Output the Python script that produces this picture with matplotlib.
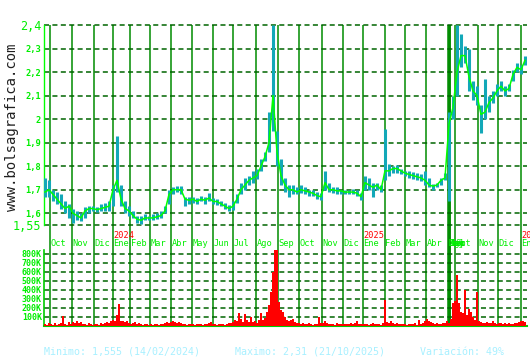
import numpy as np
import matplotlib.pyplot as plt
from matplotlib.transforms import blended_transform_factory

# precio: cierre, maximo y minimo cada 4 sesiones
close = [1.69, 1.70, 1.68, 1.66, 1.64, 1.62, 1.63, 1.60, 1.59, 1.58,
         1.61, 1.62, 1.62, 1.615, 1.62, 1.625, 1.63, 1.70, 1.74, 1.66,
         1.62, 1.61, 1.59, 1.575, 1.57, 1.58, 1.58, 1.58, 1.585, 1.59,
         1.61, 1.68, 1.70, 1.70, 1.70, 1.66, 1.655, 1.66, 1.65, 1.66,
         1.655, 1.665, 1.65, 1.65, 1.64, 1.63, 1.62, 1.63, 1.66, 1.70,
         1.72, 1.74, 1.75, 1.76, 1.80, 1.84, 1.90, 2.10, 1.86, 1.76,
         1.72, 1.70, 1.70, 1.69, 1.70, 1.695, 1.69, 1.685, 1.675, 1.67,
         1.73, 1.70, 1.70, 1.695, 1.695, 1.69, 1.69, 1.69, 1.685, 1.67,
         1.73, 1.72, 1.71, 1.72, 1.70, 1.78, 1.78, 1.79, 1.79, 1.78,
         1.77, 1.765, 1.76, 1.755, 1.75, 1.74, 1.72, 1.715, 1.72, 1.74,
         1.75, 1.98, 2.05, 2.20, 2.27, 2.27, 2.18, 2.12, 2.10, 2.02,
         2.03, 2.07, 2.09, 2.12, 2.14, 2.12, 2.13, 2.19, 2.22, 2.21,
         2.25]
high = [1.75, 1.74, 1.70, 1.69, 1.68, 1.65, 1.64, 1.62, 1.61, 1.60,
        1.625, 1.63, 1.63, 1.625, 1.64, 1.645, 1.65, 1.72, 1.93, 1.72,
        1.65, 1.63, 1.61, 1.59, 1.59, 1.595, 1.59, 1.595, 1.60, 1.61,
        1.63, 1.70, 1.71, 1.715, 1.715, 1.67, 1.67, 1.67, 1.665, 1.675,
        1.67, 1.685, 1.665, 1.66, 1.65, 1.645, 1.635, 1.65, 1.68, 1.73,
        1.75, 1.76, 1.78, 1.79, 1.83, 1.86, 2.03, 2.40, 1.95, 1.83,
        1.75, 1.72, 1.72, 1.71, 1.72, 1.71, 1.70, 1.70, 1.69, 1.685,
        1.78, 1.73, 1.71, 1.71, 1.70, 1.70, 1.70, 1.705, 1.70, 1.685,
        1.76, 1.75, 1.73, 1.73, 1.72, 1.96, 1.81, 1.80, 1.805, 1.79,
        1.78, 1.78, 1.775, 1.77, 1.765, 1.78, 1.75, 1.725, 1.73, 1.75,
        1.77, 2.03, 2.10, 2.40, 2.36, 2.31, 2.30, 2.16, 2.14, 2.06,
        2.17, 2.10, 2.12, 2.15, 2.16, 2.14, 2.15, 2.21, 2.24, 2.23,
        2.27]
low = [1.67, 1.67, 1.65, 1.64, 1.62, 1.60, 1.58, 1.56, 1.57, 1.565,
       1.58, 1.60, 1.61, 1.605, 1.61, 1.61, 1.61, 1.63, 1.69, 1.63,
       1.60, 1.59, 1.58, 1.56, 1.555, 1.57, 1.57, 1.57, 1.575, 1.58,
       1.60, 1.64, 1.68, 1.69, 1.68, 1.63, 1.64, 1.645, 1.64, 1.65,
       1.64, 1.65, 1.64, 1.635, 1.63, 1.62, 1.61, 1.615, 1.645, 1.68,
       1.70, 1.72, 1.73, 1.745, 1.78, 1.82, 1.86, 1.95, 1.80, 1.72,
       1.69, 1.67, 1.68, 1.68, 1.685, 1.68, 1.675, 1.675, 1.66, 1.655,
       1.70, 1.69, 1.685, 1.68, 1.68, 1.68, 1.68, 1.68, 1.675, 1.655,
       1.70, 1.70, 1.67, 1.70, 1.69, 1.74, 1.76, 1.77, 1.77, 1.765,
       1.76, 1.75, 1.745, 1.74, 1.735, 1.72, 1.71, 1.70, 1.71, 1.72,
       1.74, 1.65, 2.00, 2.10, 2.22, 2.24, 2.12, 2.08, 2.06, 1.94,
       2.00, 2.03, 2.07, 2.10, 2.12, 2.10, 2.12, 2.16, 2.20, 2.19,
       2.23]
price_step = 4

# volumen en miles, cada 2 sesiones
volume = [22, 15, 28, 18, 14, 30, 16, 22, 32, 107,
          18, 15, 40, 25, 45, 30, 55, 35, 40, 25,
          18, 14, 30, 20, 15, 25, 18, 14, 28, 20,
          30, 40, 35, 50, 70, 55, 118, 240, 60, 50,
          40, 55, 30, 22, 35, 40, 20, 28, 18, 15,
          20, 25, 15, 18, 14, 20, 18, 15, 24, 18,
          30, 40, 35, 45, 50, 40, 35, 45, 30, 22,
          18, 15, 20, 25, 18, 15, 20, 18, 25, 15,
          18, 20, 30, 45, 25, 18, 15, 20, 18, 25,
          15, 20, 28, 35, 40, 65, 55, 144, 80, 45,
          130, 65, 45, 100, 40, 55, 35, 65, 144, 70,
          90, 150, 230, 378, 600, 840, 840, 267, 174, 155,
          100, 63, 60, 70, 80, 45, 35, 28, 22, 32,
          20, 18, 28, 22, 15, 20, 22, 100, 28, 35,
          60, 32, 22, 18, 20, 15, 28, 18, 22, 20,
          18, 22, 20, 28, 18, 32, 50, 25, 20, 22,
          18, 20, 15, 22, 32, 20, 18, 22, 15, 28,
          290, 45, 35, 50, 28, 22, 35, 20, 18, 22,
          20, 15, 22, 18, 20, 28, 15, 70, 22, 28,
          60, 80, 55, 45, 32, 22, 28, 18, 22, 28,
          35, 60, 30, 80, 250, 280, 560, 250, 150, 140,
          400, 120, 193, 150, 100, 70, 378, 60, 45, 35,
          30, 45, 35, 28, 50, 30, 22, 35, 28, 20,
          28, 22, 30, 18, 22, 35, 28, 45, 60, 50,
          45]
vol_step = 2

month_names = ["Oct", "Nov", "Dic", "Ene", "Feb", "Mar", "Abr", "May", "Jun",
               "Jul", "Ago", "Sep", "Oct", "Nov", "Dic", "Ene", "Feb", "Mar",
               "Abr", "May", "Jun", "Jul", "Ago", "Sep", "Oct", "Nov", "Dic", "Ene"]
month_pos = [5, 27, 49, 68, 85, 105, 126, 147, 168, 188, 211, 233, 254, 277,
             298, 318, 340, 360, 381, 403, 403.5, 404, 404.5, 405, 410, 433, 453, 476]
year_names = ["2024", "2025", "2026"]
year_pos = [68, 318, 476]

price_ticks = [1.55, 1.6, 1.7, 1.8, 1.9, 2.0, 2.1, 2.2, 2.3, 2.4]
price_labels = ["1,55", "1,6", "1,7", "1,8", "1,9", "2", "2,1", "2,2", "2,3", "2,4"]
vol_ticks = [100, 200, 300, 400, 500, 600, 700, 800]
vol_labels = ["100K", "200K", "300K", "400K", "500K", "600K", "700K", "800K"]

W, H = 530, 360
mono = "DejaVu Sans Mono"
teal = "#12a8b8"
grid_green = "#006400"
line_green = "#008c00"
bright = "#00ee00"
dash = (0, (3.3, 2.2))
xlim = (-1, 482)


def box(l, t, r, b):
    return [l / W, 1 - b / H, (r - l) / W, (b - t) / H]


fig = plt.figure(figsize=(W / 100, H / 100), dpi=100)

# fondo con las lineas de cada mes
bg = fig.add_axes(box(44, 25, 527, 326))
bg.set_xlim(xlim)
bg.axis("off")
bg.vlines(month_pos, 0, 1, color=line_green, lw=1.1,
          transform=blended_transform_factory(bg.transData, bg.transAxes))

# precio
ax = fig.add_axes(box(44, 25, 527, 225))
ax.patch.set_alpha(0)
ax.set_xlim(xlim)
ax.set_ylim(1.55, 2.4)
ax.hlines(price_ticks, xlim[0], xlim[1], colors=grid_green, lw=1.1,
          linestyles=[dash], clip_on=False)
xp = np.arange(len(close)) * price_step
ax.vlines(xp, low, high, color=teal, lw=2.2, zorder=3)
ax.plot(xp, close, color="#00ff00", lw=1.1, zorder=4)
ax.set_xticks([])
ax.set_yticks(price_ticks, price_labels)
ax.tick_params(axis="y", length=0, pad=2, labelcolor=bright)
for t in ax.get_yticklabels():
    t.set_fontfamily(mono)
    t.set_fontweight("bold")
    t.set_fontsize(6.3)
for t in (ax.get_yticklabels()[0], ax.get_yticklabels()[-1]):
    t.set_fontsize(8.5)
    t.set_fontweight("normal")
for s in ["top", "right", "bottom"]:
    ax.spines[s].set_visible(False)
ax.spines["left"].set_color("#00ff00")
ax.spines["left"].set_linewidth(1)

# volumen
axv = fig.add_axes(box(44, 250, 527, 326))
axv.patch.set_alpha(0)
axv.set_xlim(xlim)
axv.set_ylim(0, 840)
axv.hlines(vol_ticks, xlim[0], xlim[1], colors=grid_green, lw=1.1,
           linestyles=[dash])
xv = np.arange(len(volume)) * vol_step
axv.bar(xv, volume, width=1.4, color="#ff0000", zorder=3)
axv.set_xticks([])
axv.set_yticks(vol_ticks, vol_labels)
axv.tick_params(axis="y", length=0, pad=1.5, labelcolor=bright)
for t in axv.get_yticklabels():
    t.set_fontfamily(mono)
    t.set_fontweight("bold")
    t.set_fontsize(6)
for s in ["top", "right"]:
    axv.spines[s].set_visible(False)
axv.spines["left"].set_color("#00cc00")
axv.spines["bottom"].set_color("#00cc00")
axv.spines["left"].set_linewidth(1.2)
axv.spines["bottom"].set_linewidth(1.5)

# meses y años entre los dos paneles
tr = blended_transform_factory(ax.transData, fig.transFigure)
for name, pos in zip(month_names, month_pos):
    fig.text(pos + 0.5, 1 - 244 / H, name, transform=tr, ha="left", va="center",
             color=bright, fontsize=6.2, family=mono)
for name, pos in zip(year_names, year_pos):
    fig.text(pos + 0.5, 1 - 236 / H, name, transform=tr, ha="left", va="center",
             color="#ff0000", fontsize=6.2, family=mono)

fig.text(12 / W, 1 - 127 / H, "www.bolsagrafica.com", rotation=90, ha="center",
         va="center", color="#202020", fontsize=10, family=mono)

info = "#a8f0ff"
fig.text(44 / W, 1 - 352 / H, "Minimo: 1,555 (14/02/2024)", color=info,
         fontsize=7.2, family=mono, va="center")
fig.text(235 / W, 1 - 352 / H, "Maximo: 2,31 (21/10/2025)", color=info,
         fontsize=7.2, family=mono, va="center")
fig.text(420 / W, 1 - 352 / H, "Variación: 49%", color=info,
         fontsize=7.2, family=mono, va="center")

fig.savefig("out.png", dpi=100)
